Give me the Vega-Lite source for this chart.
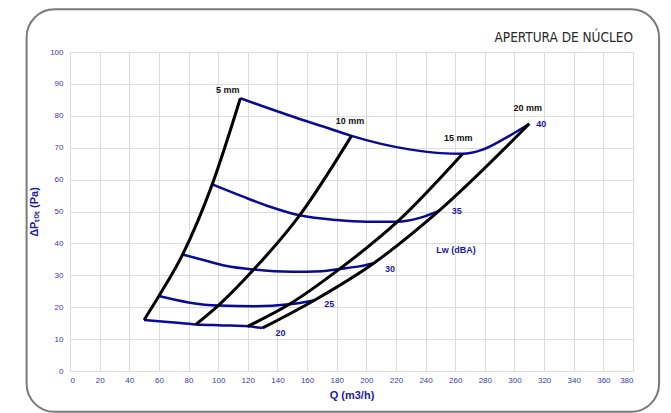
{
  "$schema": "https://vega.github.io/schema/vega-lite/v6.json",
  "width": 563,
  "height": 319,
  "autosize": {"type": "none"},
  "padding": {"left": 70, "top": 52, "right": 38, "bottom": 42},
  "background": "white",
  "config": {
    "view": {"stroke": null},
    "axis": {"grid": true, "gridColor": "#dcdcdc", "gridWidth": 1, "domainColor": "#dcdcdc", "ticks": false, "labelOverlap": false, "labelColor": "#3a3aaa", "labelFont": "Liberation Sans", "labelFontSize": 8, "titleColor": "#22229a", "titleFont": "Liberation Sans", "titleFontSize": 11, "titleFontWeight": "bold"}
  },
  "datasets": {
    "curves": [
      {"s": "L20", "k": "noise", "q": 50, "p": 16},
      {"s": "L20", "k": "noise", "q": 68, "p": 15.3},
      {"s": "L20", "k": "noise", "q": 85, "p": 14.6},
      {"s": "L20", "k": "noise", "q": 103, "p": 14.3},
      {"s": "L20", "k": "noise", "q": 120, "p": 14},
      {"s": "L20", "k": "noise", "q": 130, "p": 13.5},
      {"s": "L25", "k": "noise", "q": 60, "p": 23.5},
      {"s": "L25", "k": "noise", "q": 80, "p": 21.5},
      {"s": "L25", "k": "noise", "q": 100, "p": 20.5},
      {"s": "L25", "k": "noise", "q": 125, "p": 20.3},
      {"s": "L25", "k": "noise", "q": 148, "p": 20.9},
      {"s": "L25", "k": "noise", "q": 165, "p": 22.2},
      {"s": "L30", "k": "noise", "q": 76, "p": 36.5},
      {"s": "L30", "k": "noise", "q": 90, "p": 34.8},
      {"s": "L30", "k": "noise", "q": 105, "p": 33},
      {"s": "L30", "k": "noise", "q": 124, "p": 31.8},
      {"s": "L30", "k": "noise", "q": 150, "p": 31.1},
      {"s": "L30", "k": "noise", "q": 170, "p": 31.3},
      {"s": "L30", "k": "noise", "q": 182, "p": 32},
      {"s": "L30", "k": "noise", "q": 195, "p": 32.8},
      {"s": "L30", "k": "noise", "q": 205, "p": 33.8},
      {"s": "L35", "k": "noise", "q": 96, "p": 58.5},
      {"s": "L35", "k": "noise", "q": 115, "p": 55},
      {"s": "L35", "k": "noise", "q": 135, "p": 51.5},
      {"s": "L35", "k": "noise", "q": 155, "p": 48.8},
      {"s": "L35", "k": "noise", "q": 180, "p": 47.3},
      {"s": "L35", "k": "noise", "q": 200, "p": 46.8},
      {"s": "L35", "k": "noise", "q": 221, "p": 46.8},
      {"s": "L35", "k": "noise", "q": 236, "p": 48},
      {"s": "L35", "k": "noise", "q": 249, "p": 50.2},
      {"s": "L40", "k": "noise", "q": 115, "p": 85.5},
      {"s": "L40", "k": "noise", "q": 135, "p": 82.2},
      {"s": "L40", "k": "noise", "q": 155, "p": 79},
      {"s": "L40", "k": "noise", "q": 175, "p": 76},
      {"s": "L40", "k": "noise", "q": 190, "p": 73.7},
      {"s": "L40", "k": "noise", "q": 210, "p": 71.2},
      {"s": "L40", "k": "noise", "q": 230, "p": 69.4},
      {"s": "L40", "k": "noise", "q": 250, "p": 68.3},
      {"s": "L40", "k": "noise", "q": 265, "p": 68.1},
      {"s": "L40", "k": "noise", "q": 278, "p": 69.3},
      {"s": "L40", "k": "noise", "q": 292, "p": 72.5},
      {"s": "L40", "k": "noise", "q": 310, "p": 77.5},
      {"s": "M05", "k": "opening", "q": 50, "p": 16},
      {"s": "M05", "k": "opening", "q": 60, "p": 23.5},
      {"s": "M05", "k": "opening", "q": 76, "p": 36.5},
      {"s": "M05", "k": "opening", "q": 96, "p": 58.5},
      {"s": "M05", "k": "opening", "q": 115, "p": 85.5},
      {"s": "M10", "k": "opening", "q": 85, "p": 14.6},
      {"s": "M10", "k": "opening", "q": 100, "p": 20.5},
      {"s": "M10", "k": "opening", "q": 124, "p": 31.8},
      {"s": "M10", "k": "opening", "q": 155, "p": 48.8},
      {"s": "M10", "k": "opening", "q": 190, "p": 73.7},
      {"s": "M15", "k": "opening", "q": 120, "p": 14},
      {"s": "M15", "k": "opening", "q": 148, "p": 20.9},
      {"s": "M15", "k": "opening", "q": 182, "p": 32},
      {"s": "M15", "k": "opening", "q": 221, "p": 46.8},
      {"s": "M15", "k": "opening", "q": 265, "p": 68.1},
      {"s": "M20", "k": "opening", "q": 130, "p": 13.5},
      {"s": "M20", "k": "opening", "q": 165, "p": 22.2},
      {"s": "M20", "k": "opening", "q": 205, "p": 33.8},
      {"s": "M20", "k": "opening", "q": 249, "p": 50.2},
      {"s": "M20", "k": "opening", "q": 310, "p": 77.5}
    ],
    "labels": [
      {"t": "5 mm", "k": "opening", "q": 106.5, "p": 88},
      {"t": "10 mm", "k": "opening", "q": 189, "p": 78.4},
      {"t": "15 mm", "k": "opening", "q": 262, "p": 72.9},
      {"t": "20 mm", "k": "opening", "q": 309, "p": 82.6},
      {"t": "40", "k": "noise", "q": 318, "p": 77.5},
      {"t": "35", "k": "noise", "q": 261, "p": 50.3},
      {"t": "30", "k": "noise", "q": 216, "p": 32},
      {"t": "25", "k": "noise", "q": 175, "p": 21},
      {"t": "20", "k": "noise", "q": 142, "p": 11.8},
      {"t": "Lw (dBA)", "k": "noise", "q": 260.5, "p": 37.8}
    ]
  },
  "encoding": {
    "x": {"type": "quantitative", "scale": {"domain": [0, 380], "nice": false}, "axis": {"values": [0, 20, 40, 60, 80, 100, 120, 140, 160, 180, 200, 220, 240, 260, 280, 300, 320, 340, 360, 380], "labelOverlap": false, "title": "Q (m3/h)", "labelPadding": 5, "titlePadding": 5}},
    "y": {"type": "quantitative", "scale": {"domain": [0, 100], "nice": false}, "axis": {"values": [0, 10, 20, 30, 40, 50, 60, 70, 80, 90, 100], "labelOverlap": false, "title": "ΔPₜₒₜ (Pa)", "labelPadding": 7, "titlePadding": 10}}
  },
  "layer": [
    {
      "data": {"values": [{}]},
      "mark": {"type": "rect", "fill": null, "stroke": "#7a7a7a", "strokeWidth": 2, "cornerRadius": 28, "clip": false},
      "encoding": {
        "x": {"datum": -29.3, "type": "quantitative"},
        "x2": {"datum": 397.6},
        "y": {"datum": 113.4, "type": "quantitative"},
        "y2": {"datum": -12.8}
      }
    },
    {
      "data": {"values": [{"t": "APERTURA DE NÚCLEO", "q": 380, "p": 104.3}]},
      "mark": {"type": "text", "font": "Liberation Sans Narrow, DejaVu Sans Condensed, Roboto Condensed, Roboto", "fontSize": 13.5, "fontWeight": "normal", "color": "#2a2a2a", "align": "right", "baseline": "middle", "clip": false},
      "encoding": {
        "x": {"field": "q"},
        "y": {"field": "p"},
        "text": {"field": "t"}
      }
    },
    {
      "data": {"name": "curves"},
      "transform": [{"filter": "datum.k === 'noise'"}],
      "mark": {"type": "line", "interpolate": "monotone", "strokeWidth": 2.5, "color": "#0a0a96"},
      "encoding": {
        "x": {"field": "q"},
        "y": {"field": "p"},
        "detail": {"field": "s"}
      }
    },
    {
      "data": {"name": "curves"},
      "transform": [{"filter": "datum.k === 'opening'"}],
      "mark": {"type": "line", "interpolate": "monotone", "strokeWidth": 3, "color": "#000000"},
      "encoding": {
        "x": {"field": "q"},
        "y": {"field": "p"},
        "detail": {"field": "s"}
      }
    },
    {
      "data": {"name": "labels"},
      "mark": {"type": "text", "font": "Liberation Sans", "fontSize": 9, "fontWeight": "bold", "align": "center", "baseline": "middle"},
      "encoding": {
        "x": {"field": "q"},
        "y": {"field": "p"},
        "text": {"field": "t"},
        "color": {"field": "k", "type": "nominal", "scale": {"domain": ["opening", "noise"], "range": ["#111111", "#1a1aa0"]}, "legend": null}
      }
    }
  ]
}
